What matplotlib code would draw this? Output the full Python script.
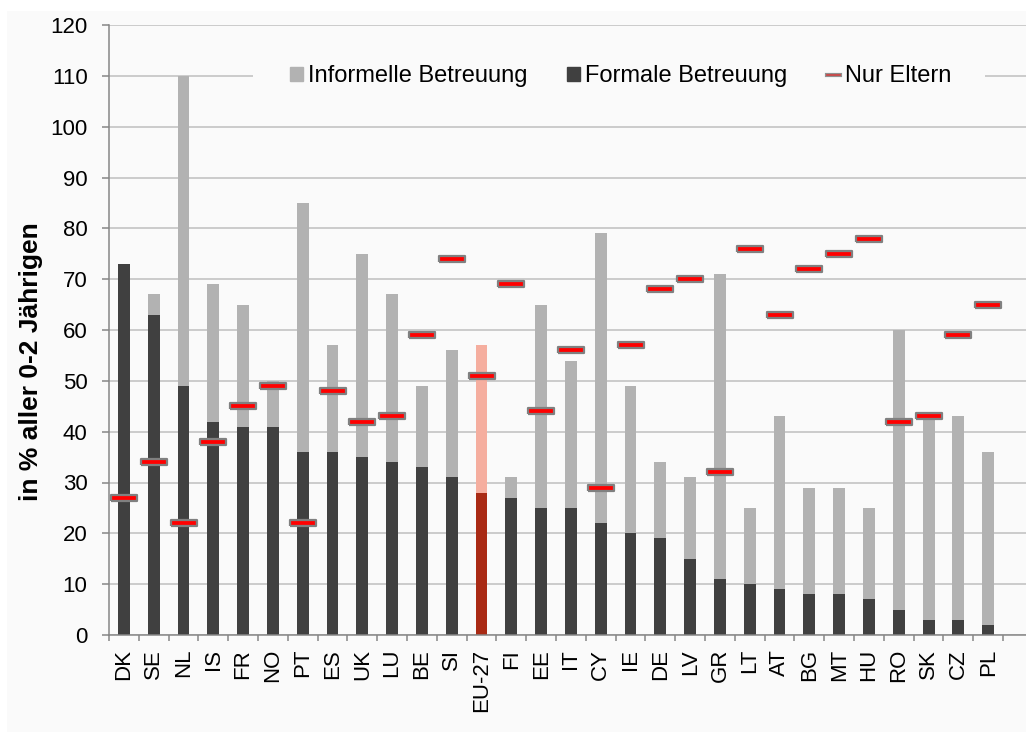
import matplotlib
matplotlib.use('Agg')
import matplotlib.pyplot as plt
import matplotlib.patches as mpatches
from matplotlib.lines import Line2D
from matplotlib.legend_handler import HandlerTuple
import numpy as np

plt.rcParams['font.family'] = ['Liberation Sans', 'DejaVu Sans']

# Daten
laender = ['DK', 'SE', 'NL', 'IS', 'FR', 'NO', 'PT', 'ES', 'UK', 'LU', 'BE', 'SI',
           'EU-27', 'FI', 'EE', 'IT', 'CY', 'IE', 'DE', 'LV', 'GR', 'LT', 'AT',
           'BG', 'MT', 'HU', 'RO', 'SK', 'CZ', 'PL']
formal = [73, 63, 49, 42, 41, 41, 36, 36, 35, 34, 33, 31,
          28, 27, 25, 25, 22, 20, 19, 15, 11, 10, 9,
          8, 8, 7, 5, 3, 3, 2]
informell = [0, 4, 61, 27, 24, 9, 49, 21, 40, 33, 16, 25,
             29, 4, 40, 29, 57, 29, 15, 16, 60, 15, 34,
             21, 21, 18, 55, 40, 40, 34]
nur_eltern = [27, 34, 22, 38, 45, 49, 22, 48, 42, 43, 59, 74,
              51, 69, 44, 56, 29, 57, 68, 70, 32, 76, 63,
              72, 75, 78, 42, 43, 59, 65]

c_formal = '#404040'
c_informell = '#b2b2b2'
c_eu_formal = '#a92a14'
c_eu_informell = '#f5ae9f'
bg = '#fafafa'
grau = '#868686'

x = np.arange(len(laender))
farbe_f = [c_eu_formal if l == 'EU-27' else c_formal for l in laender]
farbe_i = [c_eu_informell if l == 'EU-27' else c_informell for l in laender]

fig = plt.figure(figsize=(10.26, 7.34), dpi=100, facecolor='white')
fig.patches.append(mpatches.Rectangle((7/1026, 2/734), 1 - 7/1026, (734 - 13)/734,
                                      transform=fig.transFigure, facecolor=bg,
                                      edgecolor='none', zorder=-10))
ax = fig.add_axes([109/1026, 99/734, 917/1026, 610/734])
ax.set_facecolor(bg)

ax.bar(x, formal, width=0.4, color=farbe_f, zorder=2)
ax.bar(x, informell, width=0.4, bottom=formal, color=farbe_i, zorder=2)

rechteck = [(-1, -0.25), (1, -0.25), (1, 0.25), (-1, 0.25), (-1, -0.25)]
ax.plot(x, nur_eltern, linestyle='none', marker=rechteck, markersize=19,
        markerfacecolor='#ff0000', markeredgecolor='#808080',
        markeredgewidth=1.6, zorder=3)

ax.set_xlim(-0.5, 30.27)
ax.set_ylim(0, 120)
ax.set_yticks(np.arange(0, 121, 10))
ax.set_xticks(x)
ax.set_xticklabels(laender, rotation=90, fontsize=16)
ax.set_xticks(np.arange(-0.5, 30, 1), minor=True)
ax.tick_params(axis='x', which='major', length=0, pad=10)
ax.tick_params(axis='x', which='minor', length=4.5, width=1.1, color=grau)
ax.tick_params(axis='y', length=5.4, width=1.1, color=grau, labelsize=16, pad=10)

ax.set_axisbelow(True)
ax.grid(axis='y', color='#bfbfbf', linewidth=1.1)
for s in ['top', 'right']:
    ax.spines[s].set_visible(False)
for s in ['left', 'bottom']:
    ax.spines[s].set_color(grau)
    ax.spines[s].set_linewidth(1.1)

ax.set_ylabel('in % aller 0-2 Jährigen', fontsize=19, fontweight='bold')
ax.yaxis.set_label_coords(-0.072, 0.4475)

# Legende (Hintergrund unterbricht die 110er Gitterlinie)
ax.add_patch(mpatches.Rectangle((0.157, 0.893), 0.798, 0.046, transform=ax.transAxes,
                                facecolor=bg, edgecolor='none', zorder=1))
h1 = mpatches.Patch(color=c_informell)
h2 = mpatches.Patch(color=c_formal)
h3 = (Line2D([], [], color='#909090', linewidth=3), Line2D([], [], color='#d04040', linewidth=1.2))
ax.legend([h1, h2, h3], ['Informelle Betreuung', 'Formale Betreuung', 'Nur Eltern'],
          handler_map={tuple: HandlerTuple(ndivide=1)},
          ncol=3, loc='center', bbox_to_anchor=(0.558, 0.916), frameon=False,
          fontsize=17, handlelength=0.55, handleheight=0.55, handletextpad=0.2,
          columnspacing=1.7)

fig.savefig('out.png', dpi=100, facecolor='white')
